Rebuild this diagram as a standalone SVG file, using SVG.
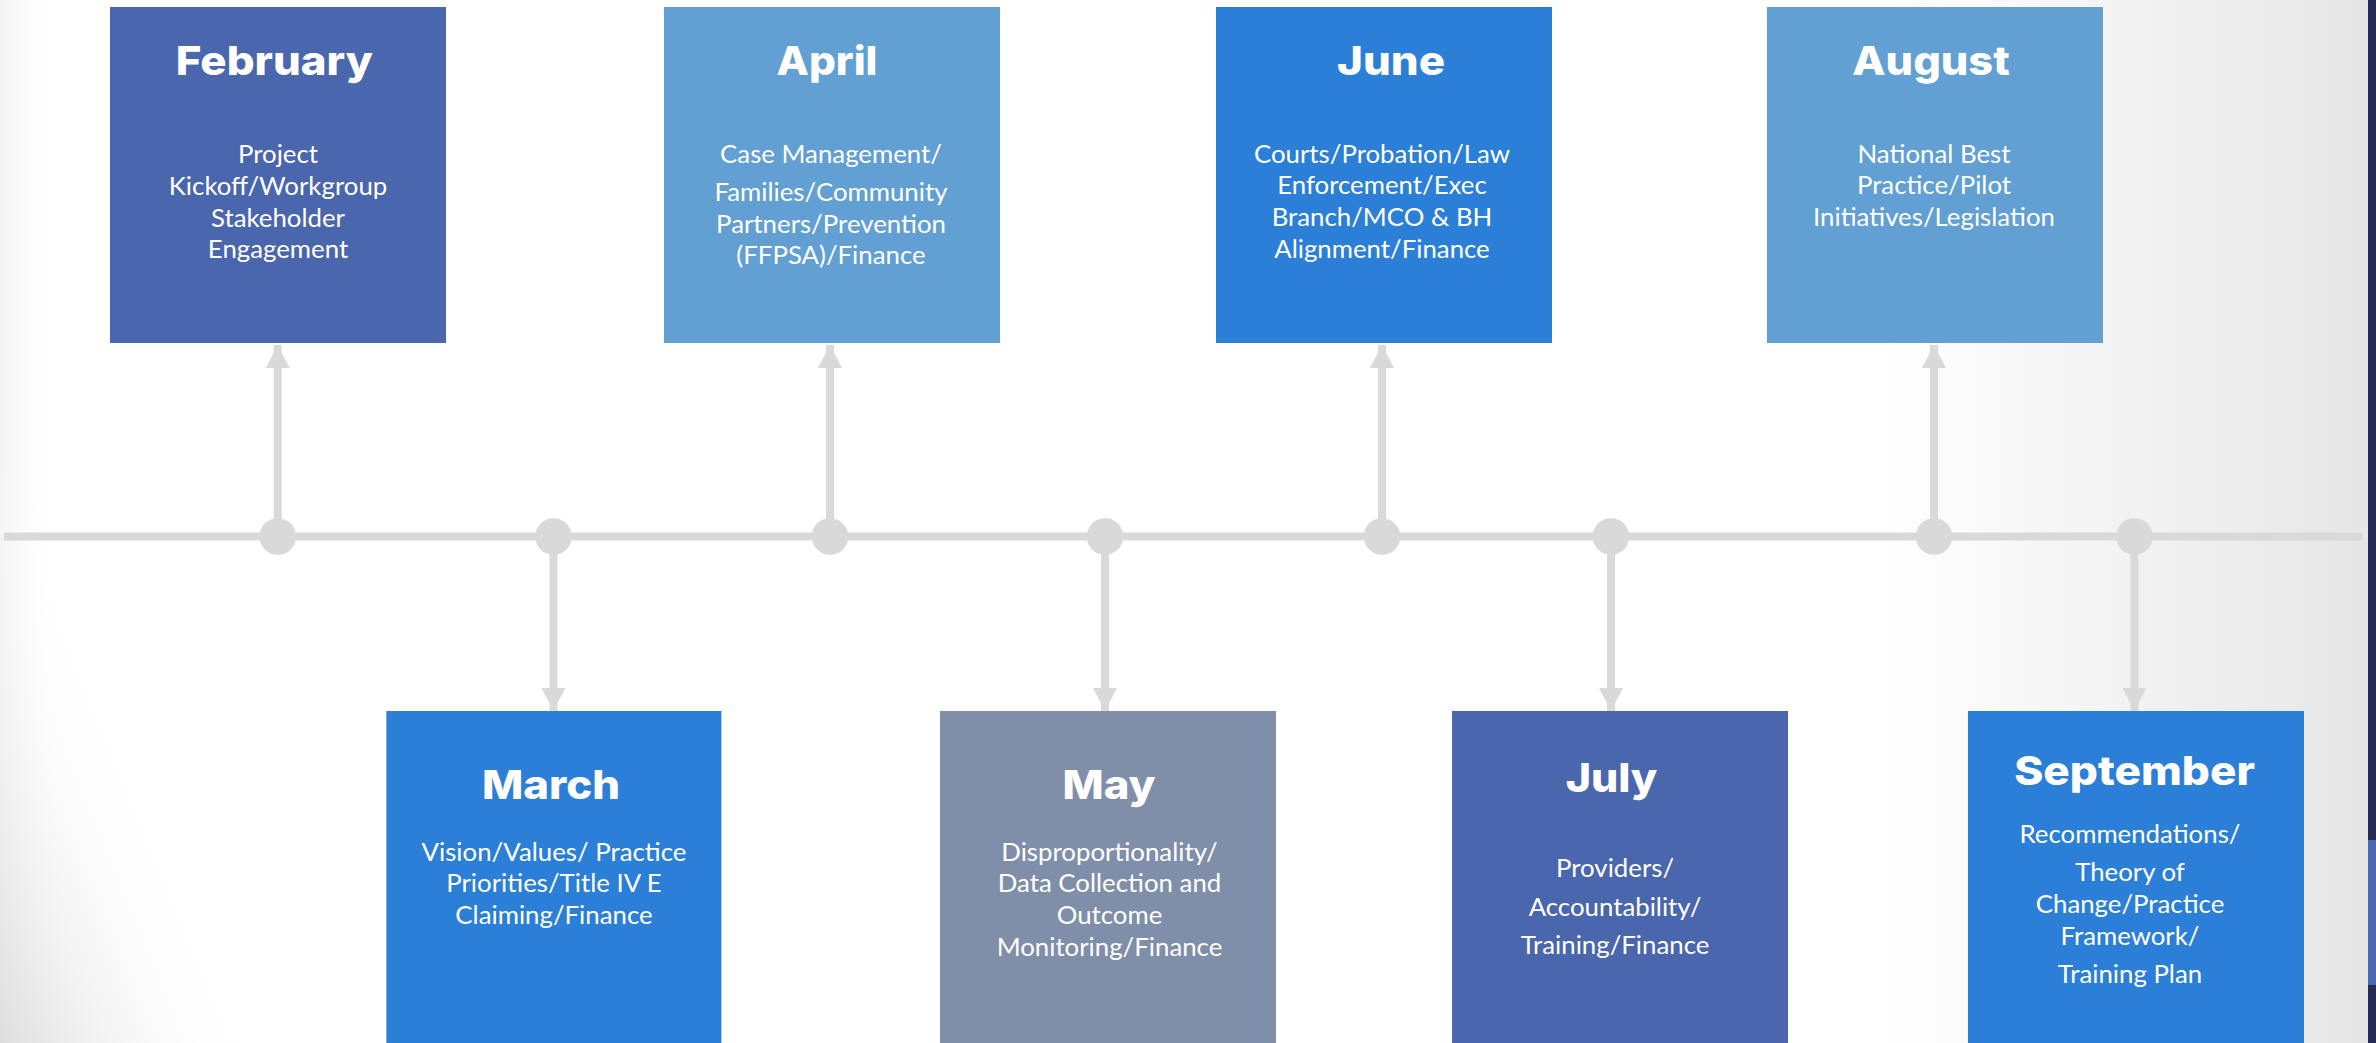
<svg xmlns="http://www.w3.org/2000/svg" width="2376" height="1043" viewBox="0 0 2376 1043">
<defs>
<linearGradient id="bgR" gradientUnits="userSpaceOnUse" x1="1880" y1="0" x2="2368" y2="0">
<stop offset="0" stop-color="#e6e6e6" stop-opacity="0"/>
<stop offset="1" stop-color="#e6e6e6" stop-opacity="1"/>
</linearGradient>
<linearGradient id="bgL" gradientUnits="userSpaceOnUse" x1="0" y1="1043" x2="222" y2="951">
<stop offset="0" stop-color="#dedede" stop-opacity="1"/>
<stop offset="1" stop-color="#ffffff" stop-opacity="0"/>
</linearGradient>
<linearGradient id="bgL2" gradientUnits="userSpaceOnUse" x1="0" y1="0" x2="60" y2="0">
<stop offset="0" stop-color="#ececec" stop-opacity="1"/>
<stop offset="1" stop-color="#ffffff" stop-opacity="0"/>
</linearGradient>
<marker id="ah" viewBox="0 0 23 24" markerUnits="userSpaceOnUse" markerWidth="23" markerHeight="24" refX="23" refY="12" orient="auto">
<path d="M0,0 L23,12 L0,24 Z" fill="#d9d9d9"/>
</marker>
<style>
.box{stroke:none}
.c1{fill:#4a66ad}
.c2{fill:#629fd2}
.c3{fill:#2b7fd6}
.c4{fill:#7f8fa9}
.title{font-family:Inter,"Open Sans","Liberation Sans",sans-serif;font-weight:800;font-size:40px;fill:#ffffff;text-anchor:middle}
.body{font-family:Lato,"Liberation Sans",sans-serif;font-weight:400;font-size:25.8px;fill:#ffffff;text-anchor:middle}
.conn{stroke:#d9d9d9;stroke-width:8;fill:none}
.dot{fill:#d9d9d9}
</style>
</defs>
<rect x="0" y="0" width="2376" height="1043" fill="#ffffff"/>
<rect x="1880" y="0" width="488" height="1043" fill="url(#bgR)"/>
<rect x="0" y="0" width="60" height="1043" fill="url(#bgL2)" opacity="0.6"/>
<rect x="0" y="300" width="400" height="743" fill="url(#bgL)"/>
<rect x="2368" y="0" width="8" height="1043" fill="#262a56"/>
<rect x="2368" y="840" width="8" height="145" fill="#4b68ae"/>

<g id="connectors">
<line class="conn" x1="4" y1="536.5" x2="2363" y2="536.5"/>
<line class="conn" x1="277.7" y1="536.5" x2="277.7" y2="345" marker-end="url(#ah)"/>
<line class="conn" x1="553.5" y1="536.5" x2="553.5" y2="711" marker-end="url(#ah)"/>
<line class="conn" x1="830" y1="536.5" x2="830" y2="345" marker-end="url(#ah)"/>
<line class="conn" x1="1105" y1="536.5" x2="1105" y2="711" marker-end="url(#ah)"/>
<line class="conn" x1="1382" y1="536.5" x2="1382" y2="345" marker-end="url(#ah)"/>
<line class="conn" x1="1611" y1="536.5" x2="1611" y2="711" marker-end="url(#ah)"/>
<line class="conn" x1="1934" y1="536.5" x2="1934" y2="345" marker-end="url(#ah)"/>
<line class="conn" x1="2134.5" y1="536.5" x2="2134.5" y2="711" marker-end="url(#ah)"/>
<circle class="dot" cx="277.7" cy="536.5" r="18.3"/>
<circle class="dot" cx="553.5" cy="536.5" r="18.3"/>
<circle class="dot" cx="830" cy="536.5" r="18.3"/>
<circle class="dot" cx="1105" cy="536.5" r="18.3"/>
<circle class="dot" cx="1382" cy="536.5" r="18.3"/>
<circle class="dot" cx="1611" cy="536.5" r="18.3"/>
<circle class="dot" cx="1934" cy="536.5" r="18.3"/>
<circle class="dot" cx="2134.5" cy="536.5" r="18.3"/>
</g>

<g id="february">
<rect class="box c1" x="110" y="7" width="336" height="336"/>
<text class="title" x="274.3" y="75" textLength="197" lengthAdjust="spacingAndGlyphs">February</text>
<text class="body" x="278"><tspan x="278" y="163.3">Project</tspan><tspan x="278" y="195">Kickoff/Workgroup</tspan><tspan x="278" y="226.7">Stakeholder</tspan><tspan x="278" y="258.3">Engagement</tspan></text>
</g>

<g id="april">
<rect class="box c2" x="664" y="7" width="336" height="336"/>
<text class="title" x="827" y="75" textLength="101" lengthAdjust="spacingAndGlyphs">April</text>
<text class="body" x="831"><tspan x="831" y="162.7">Case Management/</tspan><tspan x="831" y="201">Families/Community</tspan><tspan x="831" y="232.7">Partners/Prevention</tspan><tspan x="831" y="264.3">(FFPSA)/Finance</tspan></text>
</g>

<g id="june">
<rect class="box c3" x="1216" y="7" width="336" height="336"/>
<text class="title" x="1391" y="75" textLength="108" lengthAdjust="spacingAndGlyphs">June</text>
<text class="body" x="1382"><tspan x="1382" y="162.7">Courts/Probation/Law</tspan><tspan x="1382" y="194.3">Enforcement/Exec</tspan><tspan x="1382" y="226">Branch/MCO &amp; BH</tspan><tspan x="1382" y="257.7">Alignment/Finance</tspan></text>
</g>

<g id="august">
<rect class="box c2" x="1767" y="7" width="336" height="336"/>
<text class="title" x="1931" y="75" textLength="157.5" lengthAdjust="spacingAndGlyphs">August</text>
<text class="body" x="1934"><tspan x="1934" y="162.7">National Best</tspan><tspan x="1934" y="194.3">Practice/Pilot</tspan><tspan x="1934" y="226">Initiatives/Legislation</tspan></text>
</g>

<g id="march">
<rect class="box c3" x="386.4" y="711" width="335" height="340"/>
<text class="title" x="551" y="799" textLength="138" lengthAdjust="spacingAndGlyphs">March</text>
<text class="body" x="554"><tspan x="554" y="860.6">Vision/Values/ Practice</tspan><tspan x="554" y="892">Priorities/Title IV E</tspan><tspan x="554" y="924.3">Claiming/Finance</tspan></text>
</g>

<g id="may">
<rect class="box c4" x="940" y="711" width="336" height="340"/>
<text class="title" x="1109" y="799" textLength="93" lengthAdjust="spacingAndGlyphs">May</text>
<text class="body" x="1109.5"><tspan x="1109.5" y="860.6">Disproportionality/</tspan><tspan x="1109.5" y="892">Data Collection and</tspan><tspan x="1109.5" y="924">Outcome</tspan><tspan x="1109.5" y="956.4">Monitoring/Finance</tspan></text>
</g>

<g id="july">
<rect class="box c1" x="1452" y="711" width="336" height="340"/>
<text class="title" x="1611.5" y="791.7" textLength="91.7" lengthAdjust="spacingAndGlyphs">July</text>
<text class="body" x="1615"><tspan x="1615" y="877.3">Providers/</tspan><tspan x="1615" y="916">Accountability/</tspan><tspan x="1615" y="954.3">Training/Finance</tspan></text>
</g>

<g id="september">
<rect class="box c3" x="1968" y="711" width="336" height="340"/>
<text class="title" x="2134.6" y="785" textLength="240.7" lengthAdjust="spacingAndGlyphs">September</text>
<text class="body" x="2130"><tspan x="2130" y="842.7">Recommendations/</tspan><tspan x="2130" y="880.7">Theory of</tspan><tspan x="2130" y="912.7">Change/Practice</tspan><tspan x="2130" y="945">Framework/</tspan><tspan x="2130" y="983.3">Training Plan</tspan></text>
</g>
</svg>
